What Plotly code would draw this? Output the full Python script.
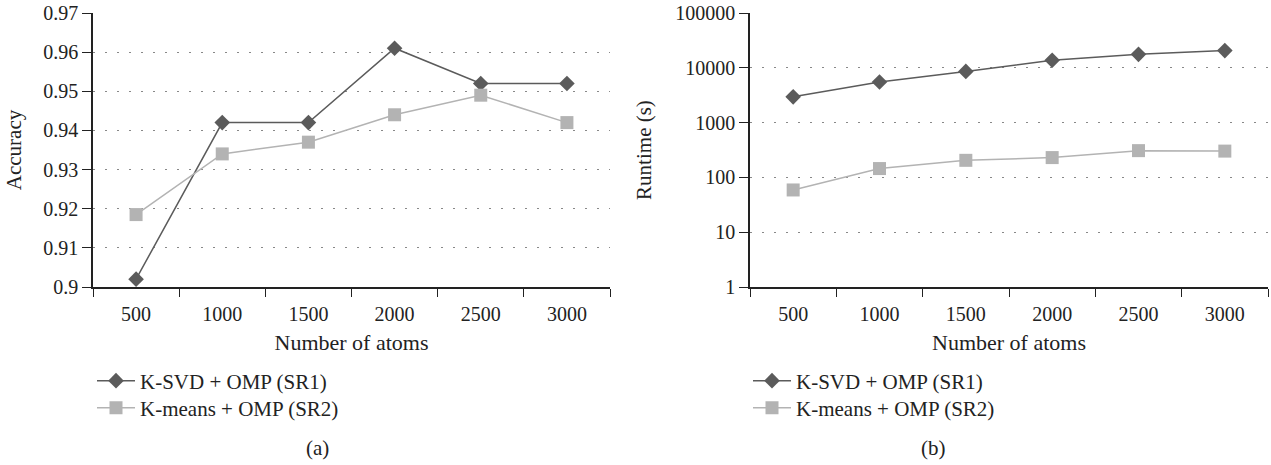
import plotly.graph_objects as go

atoms = ["500", "1000", "1500", "2000", "2500", "3000"]
acc_ksvd = [0.902, 0.942, 0.942, 0.961, 0.952, 0.952]
acc_kmeans = [0.9185, 0.934, 0.937, 0.944, 0.949, 0.942]
rt_ksvd = [2950, 5500, 8600, 13700, 17600, 20600]
rt_kmeans = [59, 145, 205, 230, 308, 302]
acc_ticks = [0.9, 0.91, 0.92, 0.93, 0.94, 0.95, 0.96, 0.97]
acc_ticktext = ["0.9", "0.91", "0.92", "0.93", "0.94", "0.95", "0.96", "0.97"]
rt_ticks = [1, 10, 100, 1000, 10000, 100000]
rt_ticktext = ["1", "10", "100", "1000", "10000", "100000"]
name1 = "K-SVD + OMP (SR1)"
name2 = "K-means + OMP (SR2)"

FONT = "Liberation Serif"
DARK = "#5b5b5b"
LIGHT = "#b3b3b3"
W, H = 1271, 465

fig = go.Figure()

def add(x, y, name, color, symbol, size, xa, ya, legend):
    fig.add_trace(go.Scatter(
        x=x, y=y, name=name, mode="lines+markers", showlegend=True,
        line=dict(color=color, width=1.5),
        marker=dict(symbol=symbol, size=size, color=color),
        xaxis=xa, yaxis=ya, legend=legend))

add(atoms, acc_ksvd, name1, DARK, "diamond", 12, "x", "y", "legend")
add(atoms, acc_kmeans, name2, LIGHT, "square", 13, "x", "y", "legend2")
add(atoms, rt_ksvd, name1, DARK, "diamond", 12, "x2", "y2", "legend3")
add(atoms, rt_kmeans, name2, LIGHT, "square", 13, "x2", "y2", "legend4")

ydom = [1 - 287 / H, 1 - 13 / H]
xcommon = dict(type="category", tickson="boundaries", ticks="outside", ticklen=8,
               tickcolor="#222", showline=True, linecolor="#222", linewidth=1.5,
               showgrid=False, range=[-0.5, 5.5], ticklabelstandoff=8, automargin=False,
               tickfont=dict(family=FONT, size=20, color="#222"),
               title=dict(text="Number of atoms", font=dict(family=FONT, size=22, color="#222"),
                          standoff=11))
ycommon = dict(ticks="outside", ticklen=9, tickcolor="#222", showline=True, linecolor="#222",
               linewidth=1.5, showgrid=True, gridcolor="#888", griddash="2px,10px", gridwidth=1,
               zeroline=False, automargin=False, tickfont=dict(family=FONT, size=20, color="#222"))

legcommon = dict(xanchor="left", yanchor="middle", font=dict(family=FONT, size=21, color="#222"),
                 bgcolor="rgba(0,0,0,0)", tracegroupgap=0, itemwidth=38, visible=True)

row1, row2 = 381, 408

fig.update_layout(
    width=W, height=H, margin=dict(l=0, r=0, t=0, b=0, autoexpand=False),
    paper_bgcolor="white", plot_bgcolor="white", showlegend=True,
    font=dict(family=FONT, color="#222"),
    xaxis=dict(domain=[93 / W, 610 / W], anchor="y", **xcommon),
    yaxis=dict(domain=ydom, anchor="x", range=[0.9, 0.97], tickvals=acc_ticks,
               ticktext=acc_ticktext,
               title=dict(text="Accuracy", font=dict(family=FONT, size=21, color="#222"), standoff=16),
               **ycommon),
    xaxis2=dict(domain=[750 / W, 1268 / W], anchor="y2", **xcommon),
    yaxis2=dict(domain=ydom, anchor="x2", type="log", range=[0, 5], tickvals=rt_ticks,
                ticktext=rt_ticktext,
                title=dict(text="Runtime (s)", font=dict(family=FONT, size=21, color="#222"), standoff=18),
                **ycommon),
    legend=dict(x=92 / W, y=1 - row1 / H, **legcommon),
    legend2=dict(x=92 / W, y=1 - row2 / H, **legcommon),
    legend3=dict(x=748 / W, y=1 - row1 / H, **legcommon),
    legend4=dict(x=748 / W, y=1 - row2 / H, **legcommon),
    annotations=[
        dict(text="(a)", x=304 / W, y=1 - 448 / H, xref="paper", yref="paper", yanchor="middle",
             showarrow=False, font=dict(family=FONT, size=21, color="#222")),
        dict(text="(b)", x=948 / W, y=1 - 448 / H, xref="paper", yref="paper", yanchor="middle",
             showarrow=False, font=dict(family=FONT, size=21, color="#222")),
    ],
)

fig.write_html("out.html")
